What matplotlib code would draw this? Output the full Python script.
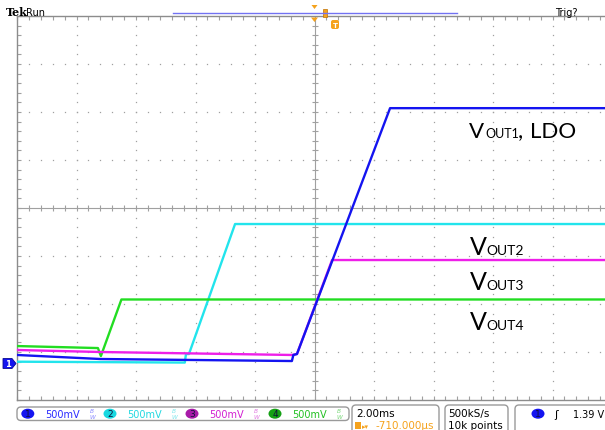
import matplotlib
matplotlib.use('Agg')
import matplotlib.pyplot as plt
from matplotlib.patches import FancyBboxPatch, Ellipse, Polygon, Rectangle
from matplotlib.ticker import FixedLocator
import numpy as np

W, H, DPI = 605, 431, 100

# ---- data: time (ms, relative to screen centre) and volts ----
ch1_t = [-10.0, -7.2, -0.76, -0.71, -0.59, 2.54, 10.0]
ch1_v = [0.089, 0.047, 0.026, 0.089, 0.099, 2.66, 2.66]
ch2_t = [-10.0, -4.36, -4.32, -4.22, -2.67, 10.0]
ch2_v = [0.019, 0.010, 0.099, 0.099, 1.453, 1.453]
ch3_t = [-10.0, -7.2, -0.76, -0.59, 0.59, 10.0]
ch3_v = [0.141, 0.120, 0.089, 0.099, 1.078, 1.078]
ch4_t = [-10.0, -7.28, -7.18, -6.49, 10.0]
ch4_v = [0.182, 0.161, 0.078, 0.667, 0.667]

trace_labels = ["OUT1", "OUT2", "OUT3", "OUT4"]
ch_scale_labels = ["500mV", "500mV", "500mV", "500mV"]
timebase_label = "2.00ms"
delay_label = "-710.000µs"
rate_labels = ["500kS/s", "10k points"]
trig_label = "1.39 V"

MS_PER_DIV = 2.0
V_PER_DIV = 0.5
CH1_POS_DIV = 3.24  # ground marker below centre, in divisions

BLUE = '#1414f0'
CYAN = '#22e4ec'
MAGENTA = '#ee1ee8'
GREEN = '#22dd22'
ORANGE = '#f5a21c'
GRID = '#a0a0a0'

fig = plt.figure(figsize=(W / DPI, H / DPI), dpi=DPI)
fig.patch.set_facecolor('white')

def fx(x):
    return x / W

def fy(y):
    return 1 - y / H

left_px, right_px, top_px, bot_px = 17, 17 + 10 * 59.5, 17, 401
ax = fig.add_axes([fx(left_px), fy(bot_px), (right_px - left_px) / W, (bot_px - top_px) / H])

ymin = -(4 - CH1_POS_DIV) * V_PER_DIV
ymax = (4 + CH1_POS_DIV) * V_PER_DIV
ycen = (ymin + ymax) / 2
ax.set_xlim(-5 * MS_PER_DIV, 5 * MS_PER_DIV)
ax.set_ylim(ymin, ymax)

xmaj = np.arange(-5, 6) * MS_PER_DIV
xmin_ = np.arange(-25, 26) * MS_PER_DIV / 5
ymaj = ymin + np.arange(0, 9) * V_PER_DIV
ymin_ = ymin + np.arange(0, 41) * V_PER_DIV / 5

# dotted grid
for x in xmaj[1:-1]:
    if abs(x) < 1e-9:
        continue
    ax.plot([x] * len(ymin_), ymin_, ls='none', marker='s', ms=0.9, mew=0, color=GRID, zorder=1)
for y in ymaj[1:-1]:
    if abs(y - ycen) < 1e-9:
        continue
    ax.plot(xmin_, [y] * len(xmin_), ls='none', marker='s', ms=0.9, mew=0, color=GRID, zorder=1)

# centre crosshair with ticks
ax.axvline(0, color=GRID, lw=0.8, zorder=1)
ax.axhline(ycen, color=GRID, lw=0.8, zorder=1)
ax.plot([0] * len(ymin_), ymin_, ls='none', marker='_', ms=5, mew=0.8, color=GRID, zorder=1)
ax.plot(xmin_, [ycen] * len(xmin_), ls='none', marker='|', ms=5, mew=0.8, color=GRID, zorder=1)

ax.xaxis.set_major_locator(FixedLocator(xmaj))
ax.xaxis.set_minor_locator(FixedLocator(xmin_))
ax.yaxis.set_major_locator(FixedLocator(ymaj))
ax.yaxis.set_minor_locator(FixedLocator(ymin_))
ax.tick_params(which='both', direction='in', top=True, right=True, bottom=True, left=True,
               labelbottom=False, labelleft=False, color=GRID, length=3, width=0.8)
for s in ax.spines.values():
    s.set_color('#8c8c8c')
    s.set_linewidth(1.0)

# traces
ax.plot(ch2_t, ch2_v, color=CYAN, lw=1.7, zorder=3)
ax.plot(ch4_t, ch4_v, color=GREEN, lw=1.7, zorder=3)
ax.plot(ch3_t, ch3_v, color=MAGENTA, lw=1.7, zorder=4)
ax.plot(ch1_t, ch1_v, color=BLUE, lw=1.7, zorder=5)

# overlay in pixel coordinates
ov = fig.add_axes([0, 0, 1, 1], zorder=10)
ov.set_xlim(0, W)
ov.set_ylim(H, 0)
ov.axis('off')

LATO = ['Lato', 'DejaVu Sans']
# V_OUT labels
def vlabel(x, y, sub, big, small):
    ov.text(x, y, 'V', fontsize=big, family=LATO, va='baseline', ha='left', color='black')
    ov.text(x + 16, y, sub, fontsize=small, family=LATO, va='baseline', ha='left', color='black')

vlabel(469, 138.5, trace_labels[0], 16, 9)
ov.text(518, 138.5, ',', fontsize=16, family=LATO, va='baseline', ha='left')
ov.text(530, 138.5, 'LDO', fontsize=16, family=LATO, va='baseline', ha='left')
vlabel(470, 255, trace_labels[1], 18, 10)
vlabel(470, 290.5, trace_labels[2], 18, 10)
vlabel(470, 330.5, trace_labels[3], 18, 10)

# top status bar
ov.text(6, 16.5, 'Tek', fontsize=8, weight='bold', family='DejaVu Serif', va='baseline')
ov.text(26, 15.5, 'Run', fontsize=7, va='baseline')
ov.text(555, 15.5, 'Trig?', fontsize=7, va='baseline')
ov.plot([173, 457], [13.5, 13.5], color='#7272f2', lw=1)
ov.add_patch(Polygon([(311.5, 6), (317.5, 6), (314.5, 10)], closed=True, fc=ORANGE, ec='none'))
ov.add_patch(Rectangle((322.5, 10), 4, 8, fc=ORANGE, ec='#c07000', lw=0.5))
ov.add_patch(Polygon([(311, 18.5), (318, 18.5), (314.5, 23)], closed=True, fc=ORANGE, ec='none'))
ov.add_patch(FancyBboxPatch((331, 21), 8, 9, boxstyle='round,pad=0,rounding_size=2', fc=ORANGE, ec='none'))
ov.text(335, 26, 'T', fontsize=5, color='white', ha='center', va='center', weight='bold')

# ground marker for channel 1
ov.add_patch(Polygon([(3, 359.5), (12, 359.5), (16, 364.5), (12, 369.5), (3, 369.5)],
                     closed=True, fc=BLUE, ec='#0a0a90', lw=0.6))
ov.text(8, 364.8, '1', fontsize=6, color='white', ha='center', va='center', weight='bold')

# bottom status bar
ov.add_patch(FancyBboxPatch((17, 408), 332, 13.5, boxstyle='round,pad=0,rounding_size=4',
                            fc='white', ec='#9a9a9a', lw=1))
ch_fill = [BLUE, '#18d8e0', '#a81aa8', '#14a014']
ch_text = ['#2a2aff', '#22d8e0', '#d21ed2', '#22c022']
ch_bw = ['#8a8aff', '#7ee6ec', '#e07ae0', '#7ad87a']
circ_x = [27.8, 110, 192, 275]
for i in range(4):
    ov.add_patch(Ellipse((circ_x[i], 414.7), 13, 10, fc=ch_fill[i], ec='none'))
    ov.text(circ_x[i], 415, str(i + 1), fontsize=6.5, color='#10103a', ha='center', va='center')
    ov.text(circ_x[i] + 17.5, 418.5, ch_scale_labels[i], fontsize=7, color=ch_text[i], va='baseline')
    ov.text(circ_x[i] + 65, 415, r'$^{B}_{W}$', fontsize=6, color=ch_bw[i], ha='center', va='center')

ov.add_patch(FancyBboxPatch((352, 406), 87, 40, boxstyle='round,pad=0,rounding_size=4',
                            fc='white', ec='#9a9a9a', lw=1))
ov.text(356, 417.5, timebase_label, fontsize=7.5, va='baseline')
ov.add_patch(Rectangle((355, 423), 6, 7, fc=ORANGE, ec='none'))
ov.text(362, 429.5, '▸▾', fontsize=5, color=ORANGE, va='baseline')
ov.text(376, 429.5, delay_label, fontsize=7.5, color=ORANGE, va='baseline')

ov.add_patch(FancyBboxPatch((445, 406), 63, 40, boxstyle='round,pad=0,rounding_size=4',
                            fc='white', ec='#9a9a9a', lw=1))
ov.text(448, 417.5, rate_labels[0], fontsize=7.5, va='baseline')
ov.text(448, 429.5, rate_labels[1], fontsize=7.5, va='baseline')

ov.add_patch(FancyBboxPatch((515, 406), 110, 40, boxstyle='round,pad=0,rounding_size=4',
                            fc='white', ec='#9a9a9a', lw=1))
ov.add_patch(Ellipse((538, 414.7), 13, 10, fc=BLUE, ec='none'))
ov.text(538, 415, '1', fontsize=6.5, color='#10103a', ha='center', va='center')
ov.text(556, 415, 'ʃ', fontsize=8, ha='center', va='center')
ov.text(573, 418.5, trig_label, fontsize=7, va='baseline')

fig.savefig('out.png', dpi=DPI, facecolor='white')
